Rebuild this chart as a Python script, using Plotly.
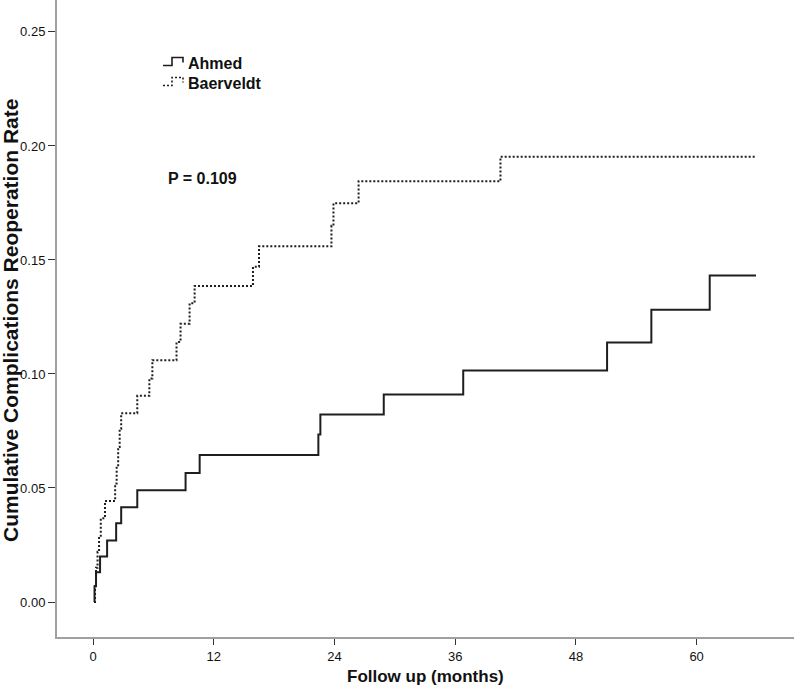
import plotly.graph_objects as go

# Data (months, cumulative rate)
ahmed_time = [0.1, 0.15, 0.3, 0.7, 1.4, 2.3, 2.8, 4.4, 9.2, 10.6, 22.4, 22.6,
              28.9, 36.8, 51.1, 55.5, 61.3, 65.9]
ahmed_rate = [0.0, 0.0069, 0.0130, 0.0200, 0.0270, 0.0345, 0.0415, 0.0490,
              0.0566, 0.0645, 0.0735, 0.0822, 0.0910, 0.1015, 0.1138, 0.1282,
              0.1432, 0.1432]

baer_time = [0.1, 0.2, 0.3, 0.45, 0.6, 0.77, 1.19, 2.2, 2.35, 2.5, 2.65, 2.8,
             4.4, 5.6, 5.9, 8.3, 8.7, 9.6, 10.1, 15.9, 16.5, 23.7, 23.9, 26.4,
             40.5, 65.9]
baer_rate = [0.0, 0.008, 0.015, 0.022, 0.029, 0.0367, 0.0443, 0.052, 0.060,
             0.068, 0.076, 0.0828, 0.0904, 0.098, 0.106, 0.114, 0.122, 0.131,
             0.1386, 0.147, 0.156, 0.165, 0.1749, 0.1845, 0.1953, 0.1953]

series_names = ["Ahmed", "Baerveldt"]
x_ticks = [0, 12, 24, 36, 48, 60]
y_ticks = [0.00, 0.05, 0.10, 0.15, 0.20, 0.25]
y_tick_labels = ["0.00", "0.05", "0.10", "0.15", "0.20", "0.25"]

FONT = "Liberation Sans, Arial, sans-serif"
W, H = 794, 687
ML, MR, MT, MB = 57, 0, 0, 50
PW, PH = W - ML - MR, H - MT - MB


def px(xp):
    return (xp - ML) / PW


def py(yp):
    return (MT + PH - yp) / PH


LINE_COLOR = "#1e1e1e"
DOT = "2px,2px"

fig = go.Figure()
fig.add_trace(go.Scatter(
    x=ahmed_time, y=ahmed_rate, mode="lines", name=series_names[0],
    line=dict(shape="hv", color=LINE_COLOR, width=2), showlegend=False,
))
fig.add_trace(go.Scatter(
    x=baer_time, y=baer_rate, mode="lines", name=series_names[1],
    line=dict(shape="hv", color=LINE_COLOR, width=2, dash=DOT), showlegend=False,
))

# Hand-drawn legend (step-shaped glyphs like the original)
shapes = []
annotations = []
for i, (name, dash) in enumerate(zip(series_names, ["solid", DOT])):
    oy = 20 * i
    pts = [(163, 65.5 + oy), (172, 65.5 + oy), (172, 57.5 + oy),
           (183, 57.5 + oy), (183, 62.5 + oy)]
    path = "M " + " L ".join(f"{px(a):.5f},{py(b):.5f}" for a, b in pts)
    shapes.append(dict(type="path", path=path, xref="paper", yref="paper",
                       line=dict(color=LINE_COLOR, width=1.6, dash=dash)))
    annotations.append(dict(text=f"<b>{name}</b>", xref="paper", yref="paper",
                            x=px(186), y=py(63.5 + oy), xanchor="left",
                            yanchor="middle", showarrow=False,
                            font=dict(family=FONT, size=16, color="#111")))

annotations += [
    dict(text="<b>P = 0.109</b>", xref="paper", yref="paper",
         x=px(166), y=py(178), xanchor="left", yanchor="middle",
         showarrow=False, font=dict(family=FONT, size=16, color="#111")),
    dict(text="<b>Follow up (months)</b>", xref="paper", yref="paper",
         x=0.5, y=py(676), xanchor="center", yanchor="middle",
         showarrow=False, font=dict(family=FONT, size=17, color="#111")),
    dict(text="<b>Cumulative Complications Reoperation Rate</b>",
         xref="paper", yref="paper", x=px(10), y=py(321),
         xanchor="center", yanchor="middle", textangle=-90,
         showarrow=False, font=dict(family=FONT, size=21, color="#111")),
]

fig.update_layout(
    width=W, height=H,
    margin=dict(l=ML, r=MR, t=MT, b=MB),
    paper_bgcolor="white", plot_bgcolor="white",
    font=dict(family=FONT, size=13, color="#111"),
    showlegend=False,
    xaxis=dict(
        range=[-3.58, 69.68], tickvals=x_ticks,
        showline=True, linecolor="#a0a0a0", linewidth=2,
        ticks="outside", ticklen=6, tickwidth=1, tickcolor="#333",
        showgrid=False, zeroline=False,
        tickfont=dict(family=FONT, size=13, color="#111"),
    ),
    yaxis=dict(
        range=[-0.01535, 0.264], tickvals=y_ticks, ticktext=y_tick_labels,
        showline=True, linecolor="#a0a0a0", linewidth=2,
        ticks="outside", ticklen=7, tickwidth=1, tickcolor="#333",
        showgrid=False, zeroline=False,
        tickfont=dict(family=FONT, size=13, color="#111"),
    ),
    shapes=shapes,
    annotations=annotations,
)

fig.write_html(
    "out.html",
    config={"displayModeBar": False},
    post_script="document.body.style.margin='0';document.body.style.padding='0';",
)
